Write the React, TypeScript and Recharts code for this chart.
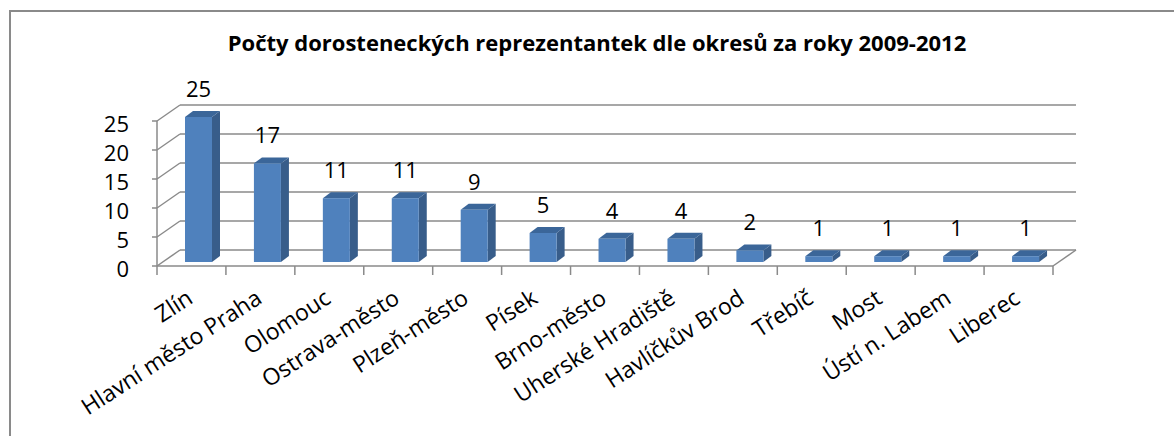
import { BarChart, Bar, XAxis, YAxis, CartesianGrid, LabelList } from "recharts";

const districts = [
  "Zlín",
  "Hlavní město Praha",
  "Olomouc",
  "Ostrava-město",
  "Plzeň-město",
  "Písek",
  "Brno-město",
  "Uherské Hradiště",
  "Havlíčkův Brod",
  "Třebíč",
  "Most",
  "Ústí n. Labem",
  "Liberec",
];
const counts = [25, 17, 11, 11, 9, 5, 4, 4, 2, 1, 1, 1, 1];
const yTicks = [0, 5, 10, 15, 20, 25];

const data = districts.map((name, i) => ({ name, value: counts[i] }));

// chart geometry (page px)
const W = 1174;
const H = 436;
const PLOT_LEFT = 157;
const PLOT_RIGHT = 1053;
const PLOT_TOP = 121;
const PLOT_BOTTOM = 266;

// back wall offset
const DX = 23;
const DY = 16;
// bar shift + bar depth
const SX = 7;
const SY = -4;
const BD = 8;
const BDY = 6;

const FONT = "'Open Sans', sans-serif";
const GRID = "#8a8a8a";

const Bar3D = (props) => {
  const { x, y, width, height } = props;
  const fx = x + SX;
  const fy = y + SY;
  return (
    <g>
      <polygon
        points={`${fx + width},${fy} ${fx + width + BD},${fy - BDY} ${fx + width + BD},${fy + height - BDY} ${fx + width},${fy + height}`}
        fill="#385D8A"
      />
      <polygon
        points={`${fx},${fy} ${fx + BD},${fy - BDY} ${fx + width + BD},${fy - BDY} ${fx + width},${fy}`}
        fill="#3B6699"
      />
      <rect x={fx} y={fy} width={width} height={height} fill="#4F81BD" />
    </g>
  );
};

const gridLine = (props) => {
  const { x1, x2, y1 } = props;
  const isFloor = Math.abs(y1 - PLOT_BOTTOM) < 1;
  return (
    <g key={`g-${y1}`}>
      <line x1={x1} y1={y1} x2={x1 + DX} y2={y1 - DY} stroke={GRID} strokeWidth={1.5} />
      <line x1={x1 + DX} y1={y1 - DY} x2={x2 + DX} y2={y1 - DY} stroke={GRID} strokeWidth={1.5} />
      {isFloor && (
        <line x1={x2 + DX} y1={y1 - DY} x2={x2} y2={y1} stroke={GRID} strokeWidth={1.5} />
      )}
    </g>
  );
};

const XTick = (props) => {
  const { x, payload, index } = props;
  const half = payload.offset || 0;
  const ax = x + 3;
  const ay = PLOT_BOTTOM + 36;
  return (
    <g>
      <line x1={x - half} y1={PLOT_BOTTOM} x2={x - half} y2={PLOT_BOTTOM + 9} stroke={GRID} strokeWidth={1.5} />
      {index === districts.length - 1 && (
        <line x1={x + half} y1={PLOT_BOTTOM} x2={x + half} y2={PLOT_BOTTOM + 9} stroke={GRID} strokeWidth={1.5} />
      )}
      <text
        x={ax}
        y={ay}
        textAnchor="end"
        transform={`rotate(-33, ${ax}, ${ay})`}
        fontFamily={FONT}
        fontSize={23}
        fill="#000"
      >
        {payload.value}
      </text>
    </g>
  );
};

const YTick = (props) => {
  const { y, payload } = props;
  return (
    <text x={PLOT_LEFT - 28} y={y + 3} dy="0.355em" textAnchor="end" fontFamily={FONT} fontSize={22} fill="#000">
      {payload.value}
    </text>
  );
};

const ValueLabel = (props) => {
  const { x, y, width, value } = props;
  return (
    <text x={x + width / 2 + SX} y={y - 24} textAnchor="middle" fontFamily={FONT} fontSize={22} fill="#000">
      {value}
    </text>
  );
};

export default function App() {
  return (
    <div style={{ position: "absolute", left: 0, top: 0, width: W, height: H, background: "#fff", overflow: "hidden" }}>
      <div
        style={{
          position: "absolute",
          left: 9,
          top: 10,
          width: W,
          height: H,
          borderLeft: `2px solid ${GRID}`,
          borderTop: `2px solid ${GRID}`,
        }}
      />
      <div
        style={{
          position: "absolute",
          left: 0,
          width: 1194,
          top: 27,
          textAlign: "center",
          fontFamily: FONT,
          fontWeight: 700,
          fontSize: 22,
          color: "#000",
        }}
      >
        Počty dorosteneckých reprezentantek dle okresů za roky 2009-2012
      </div>
      <div style={{ position: "absolute", left: 0, top: 0 }}>
        <BarChart
          width={W}
          height={H}
          data={data}
          margin={{ top: PLOT_TOP, right: W - PLOT_RIGHT, bottom: 70, left: PLOT_LEFT - 60 }}
          barSize={27}
        >
          <CartesianGrid vertical={false} horizontal={gridLine} />
          <XAxis
            dataKey="name"
            interval={0}
            height={H - 70 - PLOT_BOTTOM}
            axisLine={{ stroke: GRID, strokeWidth: 1.5 }}
            tickLine={false}
            tick={<XTick />}
          />
          <YAxis
            width={60}
            domain={[0, 25]}
            ticks={yTicks}
            axisLine={{ stroke: GRID, strokeWidth: 1.5 }}
            tickLine={{ stroke: GRID, strokeWidth: 1.5 }}
            tickSize={5}
            tick={<YTick />}
          />
          <Bar dataKey="value" shape={<Bar3D />} isAnimationActive={false}>
            <LabelList dataKey="value" content={<ValueLabel />} />
          </Bar>
        </BarChart>
      </div>
    </div>
  );
}
